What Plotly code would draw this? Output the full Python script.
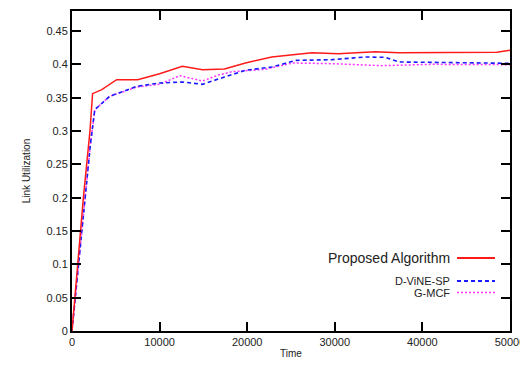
import plotly.graph_objects as go

# Data
t_prop = [0, 1300, 2050, 2350, 3400, 5100, 7500, 10000, 12600, 14900, 17400, 19800, 22800, 27400, 30400, 34600, 37300, 41000, 46700, 48500, 50000]
v_prop = [0, 0.2, 0.3, 0.356, 0.362, 0.377, 0.377, 0.386, 0.397, 0.392, 0.393, 0.402, 0.411, 0.4175, 0.416, 0.419, 0.4175, 0.4175, 0.417, 0.418, 0.421]

t_dvine = [0, 1400, 2100, 2600, 4300, 7400, 10000, 12600, 14900, 17400, 19800, 22800, 25600, 29700, 33500, 35800, 37300, 41000, 46700, 50000]
v_dvine = [0, 0.19, 0.28, 0.332, 0.352, 0.367, 0.372, 0.3735, 0.370, 0.381, 0.391, 0.396, 0.406, 0.407, 0.411, 0.4105, 0.4035, 0.403, 0.402, 0.4015]

t_gmcf = [0, 1400, 2100, 2600, 4300, 7400, 10000, 12300, 14900, 16700, 18300, 22000, 25200, 29700, 35400, 41000, 50000]
v_gmcf = [0, 0.19, 0.28, 0.332, 0.352, 0.366, 0.370, 0.383, 0.375, 0.384, 0.389, 0.3925, 0.402, 0.401, 0.398, 0.400, 0.3995]

names = ["Proposed Algorithm", "D-ViNE-SP", "G-MCF"]
x_ticks = [0, 10000, 20000, 30000, 40000, 50000]
y_ticks = [0, 0.05, 0.1, 0.15, 0.2, 0.25, 0.3, 0.35, 0.4, 0.45]

FONT = "Liberation Sans, Arial, sans-serif"
TXT = "#222222"
DASH_BLUE = "4px,3px"
DOT_MAG = "2px,2px"

fig = go.Figure()
fig.add_trace(go.Scatter(x=t_gmcf, y=v_gmcf, mode="lines", name=names[2],
                         line=dict(color="#ff33ff", width=1.5, dash=DOT_MAG)))
fig.add_trace(go.Scatter(x=t_dvine, y=v_dvine, mode="lines", name=names[1],
                         line=dict(color="#1a1aff", width=1.6, dash=DASH_BLUE)))
fig.add_trace(go.Scatter(x=t_prop, y=v_prop, mode="lines", name=names[0],
                         line=dict(color="#ff1a1a", width=1.5)))

axis_common = dict(showline=True, linecolor="black", linewidth=2, mirror="ticks",
                   ticks="inside", ticklen=9, tickwidth=2, tickcolor="black",
                   showgrid=False, zeroline=False, automargin=False,
                   ticklabeloverflow="allow",
                   tickfont=dict(family=FONT, size=11, color=TXT))

fig.update_xaxes(range=[0, 50000], tickvals=x_ticks, ticktext=[str(v) for v in x_ticks],
                 title=dict(text="Time", font=dict(family=FONT, size=10, color=TXT), standoff=3),
                 **axis_common)
fig.update_yaxes(range=[0, 0.48], tickvals=y_ticks,
                 ticktext=["0", "0.05", "0.1", "0.15", "0.2", "0.25", "0.3", "0.35", "0.4", "0.45"],
                 title=dict(text="Link Utilization", font=dict(family=FONT, size=10, color=TXT), standoff=14),
                 **axis_common)

# Page has an 8px body margin; size the figure so the page does not overflow
OFF = 8
W, H = 528 - OFF, 367 - 2 * OFF
ml, mr, mt = 72 - OFF, 18, 11 - OFF
mb = H - mt - (331 - 11)
pw, ph = W - ml - mr, H - mt - mb

def px(x):
    return (x - OFF - ml) / pw

def py(y):
    return 1 - (y - OFF - mt) / ph

legend_items = [
    (names[0], 258, 14, dict(color="#ff1a1a", width=2, dash="solid")),
    (names[1], 281, 11, dict(color="#1a1aff", width=2, dash=DASH_BLUE)),
    (names[2], 292.5, 11, dict(color="#ff33ff", width=1.5, dash=DOT_MAG)),
]
for label, yy, fs, ln in legend_items:
    fig.add_annotation(x=px(452), y=py(yy), xref="paper", yref="paper", text=label,
                       showarrow=False, xanchor="right", yanchor="middle",
                       font=dict(family=FONT, size=fs, color=TXT))
    fig.add_shape(type="line", xref="paper", yref="paper",
                  x0=px(457), x1=px(495), y0=py(yy), y1=py(yy), line=ln)

fig.update_layout(width=W, height=H, margin=dict(l=ml, r=mr, t=mt, b=mb),
                  plot_bgcolor="white", paper_bgcolor="white", showlegend=False,
                  font=dict(family=FONT, color=TXT))

fig.write_html("out.html")
